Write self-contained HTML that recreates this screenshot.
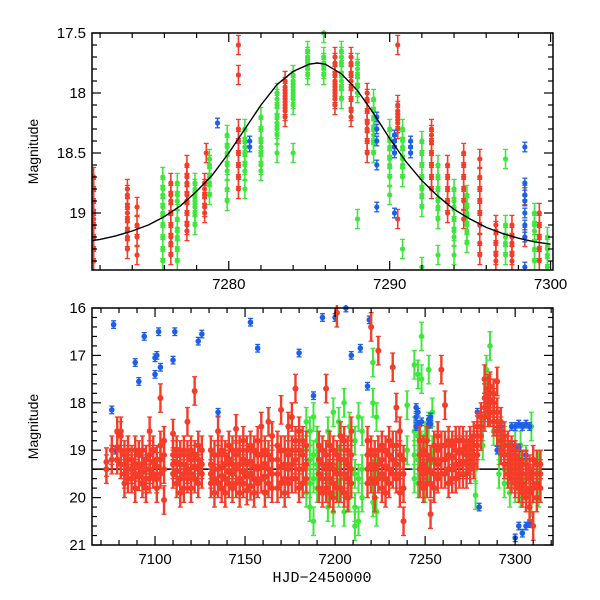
<!DOCTYPE html>
<html><head><meta charset="utf-8">
<style>
body{margin:0;background:#fff;}
svg{display:block;font-family:"Liberation Sans",sans-serif;}
</style></head>
<body>
<svg id="chart" width="600" height="600" viewBox="0 0 600 600"></svg>
<script>
// ===== Top panel data (zoom) =====
const topRedNights = [7271.6,7273.7,7274.3,7276.4,7277.4,7278.5,7278.6,7280.6,7283.5,7286.6,7287.6,7288.6,7290.5,7292.6,7293.6,7294.6,7295.6,7296.6,7297.6,7298.4,7299.3];
const topRedMags = [[18.7,18.8,18.9,19.0,19.05,19.1,19.2,19.3,19.4],[18.8,18.85,18.95,19.0,19.05,19.15,19.2,19.3],[18.95,19.1,19.2,19.35],[18.75,18.85,18.9,19.0,19.1,19.2,19.25,19.35],[18.6,18.7,18.75,18.85,18.9,19.0,19.1,19.15],[18.75,18.8,18.85,18.95,19.0],[18.5],[17.6,17.85,18.3,18.4,18.5,18.6,18.7,18.8],[17.9,17.95,18.0,18.05,18.1,18.15,18.2],[17.7,17.75,17.85,17.9,17.95,18.0,18.05,18.1],[17.7,17.75,17.85,17.9,17.95,18.05,18.15,18.2],[18.0,18.05,18.15,18.25,18.3,18.4,18.5],[17.6,18.1,18.15,18.2,18.25,18.3,19.05],[18.3,18.35,18.4,18.5,18.6,18.7,18.8],[18.6,18.7,18.8,18.9,19.0],[18.5,18.6,18.7,18.8,18.9,19.05],[18.55,18.7,18.8,18.9,19.0,19.1,19.25,19.35],[19.1,19.15,19.25,19.35,19.4],[19.1,19.2,19.25,19.35,19.4],[18.85,19.2],[19.0,19.1,19.2,19.3,19.4]];
const topGreenNights = [7275.9,7276.8,7277.9,7278.8,7279.9,7281.0,7282.0,7283.0,7284.0,7284.9,7285.9,7287.0,7288.0,7289.0,7290.0,7290.8,7292.0,7293.0,7294.0,7294.8,7297.2,7299.0,7299.8];
const topGreenMags = [[18.7,18.8,18.85,18.95,19.0,19.1,19.2,19.3,19.4],[18.75,18.85,18.9,19.05,19.15,19.2,19.3,19.4],[18.75,18.8,18.85,18.9,18.95,19.0,19.1],[18.55,18.6,18.7,18.75,18.85],[18.35,18.45,18.5,18.6,18.65,18.8,18.9],[18.3,18.4,18.45,18.5,18.6,18.65,18.8],[18.2,18.3,18.4,18.45,18.5,18.6,18.65],[18.0,18.05,18.1,18.2,18.25,18.3,18.35,18.5],[17.85,17.9,17.95,18.0,18.05,18.1,18.5],[17.65,17.7,17.72,17.75,17.8,17.85],[17.5,17.7,17.75,17.8,17.85],[17.65,17.7,17.75,17.85,17.9,17.95,18.05],[17.75,17.8,17.85,17.95,18.0,19.05],[18.05,18.15,18.2,18.3,18.35,18.4,18.5],[18.3,18.4,18.45,18.55,18.6,18.7,18.85],[18.3,18.4,18.45,18.55,18.6,18.7,19.3],[18.4,18.5,18.6,18.7,18.8,18.85,18.95,19.45],[18.6,18.7,18.8,18.9,18.95,19.05,19.35],[18.8,18.9,18.95,19.05,19.15,19.2,19.35],[18.85,18.95,19.0,19.1,19.15,19.25],[18.55,19.1,19.2,19.25,19.35],[19.0,19.1,19.15,19.3,19.4],[19.2,19.3,19.35,19.45]];
const topBlueNights = [7279.3,7281.3,7289.2,7290.3,7291.3,7298.4];
const topBlueMags = [[18.25],[18.4,18.45],[18.2,18.3,18.4,18.6,18.95],[18.35,18.4,18.45,18.5,19.0],[18.4,18.45,18.5],[18.45,18.75,18.85,18.9,19.0,19.1,19.2,19.45]];
const modelTimes = [7271.5,7272,7273,7274,7275,7276,7277,7278,7279,7280,7281,7282,7283,7284,7285,7285.5,7286,7287,7288,7289,7290,7291,7292,7293,7294,7295,7296,7297,7298,7299,7300];
const modelMags = [19.23,19.22,19.19,19.15,19.10,19.03,18.94,18.82,18.68,18.50,18.30,18.10,17.93,17.82,17.76,17.75,17.76,17.84,17.98,18.17,18.38,18.57,18.73,18.86,18.97,19.05,19.12,19.17,19.21,19.24,19.26];
const topXTicks = ["7280","7290","7300"];
const topYTicks = ["17.5","18","18.5","19"];

// ===== Bottom panel data (full season) =====
const botRedNights = [7073,7076,7079,7081,7083,7085,7087,7089,7091,7093,7095,7097,7099,7101,7103,7105,7110,7112,7114,7116,7118,7120,7122,7124,7126,7131,7133,7135,7137,7139,7141,7143,7145,7147,7149,7151,7153,7155,7157,7159,7161,7163,7165,7168,7170,7172,7174,7176,7178,7180,7182,7184,7191,7193,7195,7197,7199,7201,7203,7205,7207,7209,7218,7220,7222,7224,7226,7228,7230,7232,7234,7236,7238,7247,7249,7251,7253,7255,7257,7259,7261,7263,7265,7267,7269,7271,7273,7275,7277,7279,7281,7283,7285,7286,7288,7290,7292,7294,7296,7298,7300,7302,7304,7306,7308,7310,7312,7314];
const botRedMags = [[19.25,19.4],[19.0,19.2],[18.6,18.95,19.2],[18.6,18.7,19.0,19.3],[19.1,19.3,19.5,19.7],[19.0,19.2,19.4,19.6],[19.2,19.4,19.6],[19.0,19.3,19.5,19.8],[19.1,19.35,19.55],[19.0,19.3,19.45,19.7],[19.2,19.4,19.6,19.8],[18.6,19.1,19.4,19.6],[19.0,19.25,19.5],[19.2,19.35,19.6,19.8],[17.9,18.9,19.2,19.5],[18.8,19.1,19.4,20.05],[18.65,19.1,19.3,19.5],[19.0,19.25,19.45,19.7],[19.1,19.3,19.6,19.9],[19.0,19.3,19.5,19.8],[18.4,19.1,19.4,19.6],[19.0,19.2,19.5,19.8],[17.75,19.1,19.35,19.6],[18.9,19.2,19.4,19.7],[19.0,19.3,19.5],[19.0,19.3,19.5,19.7],[19.1,19.4,19.6,19.9],[18.6,19.1,19.4,19.7],[19.0,19.35,19.55,19.8],[19.1,19.3,19.6,19.9],[18.9,19.2,19.45,19.7],[19.0,19.3,19.5,19.8],[18.55,19.1,19.4,19.7],[19.0,19.3,19.6,19.9],[18.8,19.2,19.45,19.7],[19.0,19.3,19.55,19.85],[18.9,19.25,19.5,19.75],[19.0,19.35,19.6,19.9],[18.8,19.1,19.4,19.7],[18.5,19.1,19.35,19.6],[19.0,19.3,19.55,19.9],[18.4,19.1,19.4,19.7],[18.7,19.2,19.5,19.8],[18.9,19.2,19.5,19.8],[18.15,19.0,19.35,19.7],[19.0,19.3,19.6,19.9],[18.5,19.1,19.4,19.7],[18.3,19.0,19.3,19.6],[17.7,18.8,19.2,19.6],[18.6,19.0,19.4,19.8],[18.8,19.1,19.4,19.7],[18.9,19.3,19.6],[18.9,19.2,19.5,19.8],[19.0,19.3,19.6,19.9],[17.7,19.1,19.4,19.8],[18.9,19.3,19.6,19.9],[19.0,19.4,19.7,20.0],[16.1,19.1,19.5,19.8],[18.7,19.2,19.5,19.8],[18.8,19.2,19.5,19.9],[19.0,19.3,19.6,20.0],[18.6,19.1,19.4,19.7],[18.8,19.1,19.4,19.7],[16.4,19.0,19.3,19.6],[19.1,19.4,19.7,20.0],[16.9,19.0,19.3,19.6],[18.9,19.2,19.5,19.8],[19.0,19.35,19.6,19.9],[18.8,19.1,19.4,19.7],[17.25,18.9,19.2,19.5],[18.1,18.9,19.3,19.6],[18.6,19.1,19.5,19.9],[20.5,19.2,19.5,19.8],[18.8,19.1,19.4,19.7],[19.0,19.3,19.5,19.8],[18.8,19.1,19.4,19.7],[20.35,19.2,19.45,19.7],[18.9,19.2,19.5,19.8],[18.7,19.0,19.3,19.6],[17.3,18.9,19.2,19.5],[18.05,18.9,19.2,19.5],[18.8,19.1,19.4,19.7],[18.9,19.15,19.4,19.6],[18.8,19.0,19.3,19.6],[18.8,19.05,19.3,19.5],[18.8,19.0,19.25,19.5],[18.9,19.1,19.3,19.5],[18.8,19.0,19.2,19.4],[18.7,18.9,19.1,19.3],[18.5,18.7,18.9,19.1],[18.3,18.5,18.7],[17.5,17.9,18.1,18.3],[17.7,17.8,18.0,18.2],[17.65,17.8,17.95,18.2],[17.8,18.0,18.2,18.4],[17.55,18.2,18.4,18.6],[18.4,18.6,18.8,19.0],[18.7,18.9,19.1,19.3],[18.9,19.1,19.3,19.5],[19.0,19.2,19.4,19.6],[19.1,19.3,19.5,19.7],[19.2,19.4,19.6,19.8],[19.3,19.5,19.7,19.9],[19.3,19.5,19.8,20.0],[19.4,19.6,19.9,20.2],[19.2,19.5,19.8,20.6],[19.3,19.5,19.7,20.0],[19.3,19.5,19.8]];
const botGreenNights = [7184,7186,7188,7190,7196,7199,7202,7205,7208,7211,7213,7215,7221,7223,7240,7244,7246,7248,7250,7252,7254,7278,7282,7284,7286,7288,7291,7294,7297,7300,7303,7306,7309,7313];
const botGreenMags = [[18.4,19.0,19.4,19.9],[18.6,19.2,19.7,20.2],[18.3,19.1,19.6,20.5],[18.8,19.3,19.8],[18.6,19.5,20.2],[18.2,19.3,19.9,20.3],[18.4,19.2,19.9],[18.0,19.0,19.6,20.3],[18.5,19.4,20.0],[18.8,19.5,20.2,20.6],[18.3,19.6,20.5],[18.6,19.4,20.0],[17.15,18.0,19.5,20.1],[18.3,19.4,20.3],[18.05,19.0],[17.2,18.6,19.1,19.6],[17.4,18.7,19.2,19.7],[16.6,17.5,18.9,19.5],[18.7,19.2,19.8],[17.3,18.5,19.4],[18.2,19.0],[19.95,19.4],[18.5,18.9],[17.3,17.6],[16.8,17.7,18.0],[18.2,18.6],[19.0,19.5],[18.8,19.4,19.7],[19.1,19.5,19.9],[18.9,19.3,19.8],[18.9,19.4,19.9],[19.2,19.6,20.0],[18.5,19.6,20.1],[19.3,19.6,19.9]];
const botBlueNights = [7076,7077,7078,7089,7090,7091,7094,7100,7101,7102,7103,7110,7111,7124,7126,7135,7153,7157,7180,7188,7193,7200,7206,7209,7214,7218,7219,7245,7246,7248,7252,7253,7279,7280,7290,7292,7298,7300,7302,7304,7306,7308];
const botBlueMags = [[18.15],[16.35],[19.0],[17.15],[19.05],[17.55],[16.6],[17.4,17.05],[17.0],[16.5],[17.25],[17.1],[16.5],[16.7],[16.55],[18.2],[16.3],[16.85],[16.95],[17.85],[16.2],[16.2],[16.0],[17.0],[16.85],[17.65],[16.25],[18.1,18.3,18.5],[18.2,18.45],[18.4],[18.35,18.45],[18.3,18.45],[18.2],[20.2],[18.6,19.0],[18.5],[18.5,18.9],[18.5,20.85],[18.45,18.95,20.6],[18.5,20.75],[18.45,19.1,20.6],[18.5,20.55]];
const botBaselineMag = [19.4];
const botXTicks = ["7100","7150","7200","7250","7300"];
const botYTicks = ["16","17","18","19","20","21"];

const NS="http://www.w3.org/2000/svg";
const svg=document.getElementById('chart');
function mk(tag,attrs,parent){const e=document.createElementNS(NS,tag);for(const k in attrs)e.setAttribute(k,attrs[k]);(parent||svg).appendChild(e);return e;}
const COL={red:"#f53c28",green:"#3de83a",blue:"#1d5fe6"};

function panel(cfg){
  const g=mk('g',{});
  
  
  const X=t=>cfg.x0+(t-cfg.t0)/(cfg.t1-cfg.t0)*(cfg.x1-cfg.x0);
  const Y=m=>cfg.y0+(m-cfg.m0)/(cfg.m1-cfg.m0)*(cfg.y1-cfg.y0);
  const clip='clip-'+cfg.name;
  const cp=mk('clipPath',{id:clip},g);mk('rect',{x:cfg.x0,y:cfg.y0-3,width:cfg.x1-cfg.x0,height:cfg.y1-cfg.y0+3},cp);
  const pg=mk('g',{'clip-path':'url(#'+clip+')'},g);
  
  
  function series(nights,mags,color,err,sname,sw,r){
    const sg=mk('g',{},pg);
    
    
    nights.forEach((t,i)=>{mags[i].forEach(m=>{
      const x=X(t),y=Y(m),ya=Y(m-err),yb=Y(m+err);
      mk('line',{x1:x,y1:ya,x2:x,y2:yb,stroke:color,'stroke-width':sw},sg);
      mk('line',{x1:x-2.5,y1:ya,x2:x+2.5,y2:ya,stroke:color,'stroke-width':1.3},sg);
      mk('line',{x1:x-2.5,y1:yb,x2:x+2.5,y2:yb,stroke:color,'stroke-width':1.3},sg);
      const c=mk('circle',{cx:x,cy:y,r:r,fill:color},sg);
      
      
    });});
  }
  cfg.draw(series,X,Y,pg);
  const fr=mk('rect',{x:cfg.x0,y:cfg.y0,width:cfg.x1-cfg.x0,height:cfg.y1-cfg.y0,fill:'none',stroke:'#000','stroke-width':1.5},g);
  
  
  const xa=mk('g',{},g);
  
  
  for(let t=Math.ceil(cfg.t0/cfg.xminor)*cfg.xminor;t<=cfg.t1;t+=cfg.xminor){
    const major=cfg.xTicks.includes(String(t));const L=major?9:5;const x=X(t);
    mk('line',{x1:x,y1:cfg.y1,x2:x,y2:cfg.y1-L,stroke:'#000','stroke-width':1.2},xa);
    mk('line',{x1:x,y1:cfg.y0,x2:x,y2:cfg.y0+L,stroke:'#000','stroke-width':1.2},xa);
  }
  cfg.xTicks.forEach(s=>{const tx=mk('text',{x:X(+s),y:cfg.y1+19,'text-anchor':'middle','font-size':15},xa);tx.textContent=s;
    
    });
  const ya=mk('g',{},g);
  
  
  for(let k=0;;k++){const m=cfg.m0+k*cfg.yminor;if(m>cfg.m1+1e-6)break;
    const major=cfg.yTicks.some(s=>Math.abs(+s-m)<1e-6);const L=major?9:5;const y=Y(m);
    mk('line',{x1:cfg.x0,y1:y,x2:cfg.x0+L,y2:y,stroke:'#000','stroke-width':1.2},ya);
    mk('line',{x1:cfg.x1,y1:y,x2:cfg.x1-L,y2:y,stroke:'#000','stroke-width':1.2},ya);
  }
  cfg.yTicks.forEach(s=>{const tx=mk('text',{x:cfg.x0-6,y:Y(+s)+5,'text-anchor':'end','font-size':15},ya);tx.textContent=s;
    
    });
  const yt=mk('text',{x:0,y:0,'text-anchor':'middle','font-size':14,transform:`translate(${cfg.x0-54},${(cfg.y0+cfg.y1)/2}) rotate(-90)`},g);
  yt.textContent='Magnitude';
  
  
}

panel({name:'top-panel',x0:92,x1:553,y0:33,y1:270,t0:7271.5,t1:7300.15,m0:17.5,m1:19.475,xminor:2,yminor:0.1,xTicks:topXTicks,yTicks:topYTicks,
 draw(series,X,Y,pg){
  series(topRedNights,topRedMags,COL.red,0.08,'top-red-series',1.6,2.6);
  series(topGreenNights,topGreenMags,COL.green,0.08,'top-green-series',1.6,2.6);
  series(topBlueNights,topBlueMags,COL.blue,0.04,'top-blue-series',1.4,2.6);
  const d=modelTimes.map((t,i)=>(i?'L':'M')+X(t).toFixed(1)+','+Y(modelMags[i]).toFixed(1)).join(' ');
  const p=mk('path',{d,fill:'none',stroke:'#000','stroke-width':1.4,'stroke-linejoin':'round'},pg);
  
  
 }});

panel({name:'bottom-panel',x0:92,x1:553,y0:308,y1:545,t0:7065,t1:7321,m0:16,m1:21,xminor:10,yminor:0.2,xTicks:botXTicks,yTicks:botYTicks,
 draw(series,X,Y,pg){
  const bl=mk('line',{x1:X(7065),x2:X(7321),y1:Y(botBaselineMag[0]),y2:Y(botBaselineMag[0]),stroke:'#000','stroke-width':1.5},pg);
  
  
  series(botGreenNights,botGreenMags,COL.green,0.3,'bottom-green-series',2.0,2.8);
  series(botBlueNights,botBlueMags,COL.blue,0.08,'bottom-blue-series',1.6,2.8);
  series(botRedNights,botRedMags,COL.red,0.3,'bottom-red-series',2.4,3.0);
 }});

const xt=mk('text',{x:322,y:582,'text-anchor':'middle','font-size':15,'font-family':'Liberation Mono, monospace'});
xt.textContent='HJD\u22122450000';


</script>
</body></html>
